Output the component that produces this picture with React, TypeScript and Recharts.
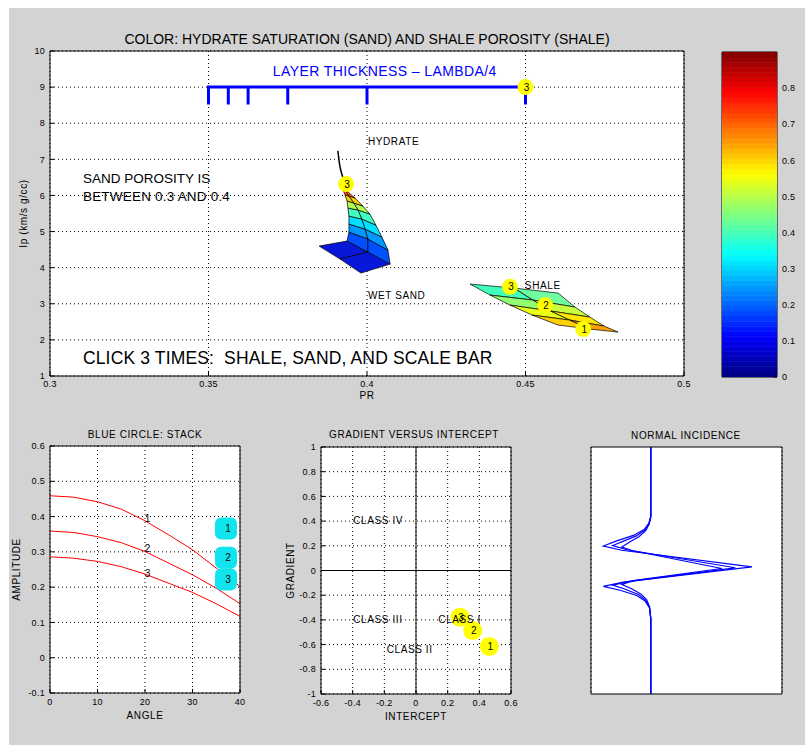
import React from 'react';
import {
  ComposedChart, Line, Scatter, XAxis, YAxis, CartesianGrid,
  ReferenceDot, ReferenceLine,
} from 'recharts';

const FONT = '"Liberation Sans", Arial, Helvetica, sans-serif';
const FIG_BG = '#d3d3d3';

// ---------- top panel: Ip vs PR ----------
const prTicks = [0.3, 0.35, 0.4, 0.45, 0.5];
const ipTicks = [1, 2, 3, 4, 5, 6, 7, 8, 9, 10];

// sand surface, rows go from wet sand (bottom) up towards full hydrate
const hydrateRows: number[][][] = [
  [[0.3849, 4.598], [0.3915, 4.238], [0.3981, 3.85]],
  [[0.3937, 4.737], [0.4003, 4.432], [0.4073, 4.1]],
  [[0.3943, 4.986], [0.4003, 4.792], [0.4066, 4.488]],
  [[0.3943, 5.208], [0.3994, 5.069], [0.4047, 4.848]],
  [[0.3943, 5.429], [0.3984, 5.346], [0.4028, 5.18]],
  [[0.394, 5.651], [0.3972, 5.596], [0.4009, 5.485]],
  [[0.3937, 5.845], [0.3959, 5.789], [0.3987, 5.706]],
  [[0.3931, 6.011], [0.3943, 5.983], [0.3962, 5.928]],
  [[0.3924, 6.15], [0.3931, 6.15], [0.3937, 6.122]],
];
const hydrateColors = ['#0818d8', '#0050ff', '#0098ff', '#00e0ff', '#40ffc0', '#b0ff50', '#ffd000', '#ff6000'];
const hydrateTail = [[0.3934, 6.288], [0.3923, 6.518], [0.3917, 6.704], [0.3913, 6.889], [0.3908, 7.238]];

// shale surface, rows from high porosity (top) to low porosity (bottom)
const shaleRows: number[][][] = [
  [[0.4325, 3.546], [0.4464, 3.435], [0.4603, 3.296]],
  [[0.4388, 3.241], [0.4524, 3.102], [0.4656, 2.909]],
  [[0.4451, 2.964], [0.458, 2.798], [0.4703, 2.632]],
  [[0.4521, 2.687], [0.464, 2.548], [0.4748, 2.382]],
  [[0.4603, 2.41], [0.4703, 2.299], [0.4792, 2.216]],
];
const shaleColors = [
  ['#40ffb8', '#70ffa0'],
  ['#90ff70', '#c8ff40'],
  ['#e8ff18', '#ffe800'],
  ['#ffd000', '#ffa000'],
];

const scaleBarTicks = [0.35, 0.35625, 0.3625, 0.375, 0.4, 0.45];
const scaleBarY = 9;
const scaleBarTickEnd = 8.52;

const topMarkers = [
  { x: 0.45, y: 9, label: '3' },
  { x: 0.3934, y: 6.316, label: '3' },
  { x: 0.4451, y: 3.47, label: '3' },
  { x: 0.4562, y: 2.964, label: '2' },
  { x: 0.4682, y: 2.3, label: '1' },
];

// ---------- colorbar ----------
const cbTicks = [0, 0.1, 0.2, 0.3, 0.4, 0.5, 0.6, 0.7, 0.8];
const cbMax = 0.9;
const cbLevels = 64;

// ---------- AVO stack panel ----------
const angles = [0, 5, 10, 15, 20, 25, 30, 35, 40];
const amp1 = [0.459, 0.455, 0.442, 0.421, 0.388, 0.348, 0.306, 0.254, 0.202];
const amp2 = [0.359, 0.355, 0.343, 0.326, 0.301, 0.268, 0.235, 0.197, 0.153];
const amp3 = [0.286, 0.282, 0.273, 0.258, 0.237, 0.211, 0.185, 0.153, 0.117];
const angleTicks = [0, 10, 20, 30, 40];
const ampTicks = [-0.1, 0, 0.1, 0.2, 0.3, 0.4, 0.5, 0.6];
const stackBoxes = [
  { x: 37.05, y: 0.366, label: '1' },
  { x: 37.05, y: 0.283, label: '2' },
  { x: 37.05, y: 0.222, label: '3' },
];

// ---------- gradient vs intercept ----------
const interceptTicks = [-0.6, -0.4, -0.2, 0, 0.2, 0.4, 0.6];
const gradientTicks = [-1, -0.8, -0.6, -0.4, -0.2, 0, 0.2, 0.4, 0.6, 0.8, 1];
const avoPoints = [
  { x: 0.278, y: -0.378, label: '3' },
  { x: 0.358, y: -0.486, label: '2' },
  { x: 0.463, y: -0.616, label: '1' },
];

// ---------- normal incidence traces ----------
const traceTimeA = [0, 28, 30.9, 33.4, 35.8, 38, 40.1, 41.8, 48.5, 54.7, 56.4, 58, 60.1, 62.4, 65.1, 69.6, 100];
const traceAmpA = [-0.748, -0.748, -0.79, -0.888, -1.112, -1.462, -1.741, -1.357, 1.371, -1.322, -1.741, -1.392, -1.042, -0.867, -0.776, -0.748, -0.748];
const traceTimeB = [0, 28.2, 31, 33.6, 36, 38.1, 39.9, 41.6, 48.9, 54.4, 55.9, 57.6, 59.8, 62.2, 65, 69.4, 100];
const traceAmpB = [-0.748, -0.748, -0.785, -0.87, -1.05, -1.32, -1.545, -1.25, 1.021, -1.2, -1.545, -1.28, -1.0, -0.85, -0.775, -0.748, -0.748];
const traceTimeC = [0, 28.4, 31.2, 33.8, 36.2, 38.5, 40.5, 42, 49.2, 54, 55.6, 57.4, 59.6, 62, 64.8, 69.2, 100];
const traceAmpC = [-0.748, -0.748, -0.78, -0.85, -0.99, -1.19, -1.357, -1.12, 0.741, -1.08, -1.357, -1.15, -0.95, -0.83, -0.772, -0.748, -0.748];

// ---------- helpers ----------
const toPts = (rows: number[][]) => rows.map(([x, y]) => ({ x, y }));

function buildQuads(rows: number[][][], colors: (string | string[])[]) {
  const quads: { pts: { x: number; y: number }[]; color: string }[] = [];
  for (let b = 0; b < rows.length - 1; b++) {
    for (let c = 0; c < rows[b].length - 1; c++) {
      const col = colors[b];
      quads.push({
        pts: toPts([rows[b][c], rows[b][c + 1], rows[b + 1][c + 1], rows[b + 1][c]]),
        color: Array.isArray(col) ? col[c] : col,
      });
    }
  }
  return quads;
}

// draws the whole series as one filled polygon from its first dot
const polygonDot = (color: string, edge = '#000', edgeWidth = 0.7) => (p: any) => {
  if (p.index !== 0 || !p.points) return <g key={p.key} />;
  const d = p.points.map((q: any) => `${q.x},${q.y}`).join(' ');
  return <polygon key={p.key} points={d} fill={color} stroke={edge} strokeWidth={edgeWidth} strokeLinejoin="round" />;
};

const yellowMarker = (r: number) => (p: any) => (
  <g>
    <circle cx={p.cx} cy={p.cy} r={r} fill="#ffff00" />
    <text x={p.cx + 1} y={p.cy} textAnchor="middle" dominantBaseline="central" fontSize={10} fontFamily={FONT} fill="#000">
      {p.payload.label}
    </text>
  </g>
);

const cyanBox = (p: any) => (
  <g>
    <rect x={p.cx - 11} y={p.cy - 11} width={22} height={22} rx={6} fill="#10e4ec" />
    <text x={p.cx + 2} y={p.cy} textAnchor="middle" dominantBaseline="central" fontSize={10} fontFamily={FONT} fill="#000">
      {p.payload.label}
    </text>
  </g>
);

type Note = { x: number; y: number; text: string; size?: number; color?: string; anchor?: 'start' | 'middle' | 'end'; spacing?: number };

function notes(list: Note[], key: string) {
  return list.map((n, i) => (
    <ReferenceDot
      key={`${key}-${i}`}
      x={n.x}
      y={n.y}
      r={0}
      ifOverflow="visible"
      shape={(p: any) => (
        <text
          x={p.cx}
          y={p.cy}
          textAnchor={n.anchor ?? 'start'}
          dominantBaseline="central"
          fontSize={n.size ?? 10}
          fontFamily={FONT}
          fill={n.color ?? '#000'}
          letterSpacing={n.spacing ?? 0.6}
          style={{ whiteSpace: 'pre' }}
        >
          {n.text}
        </text>
      )}
    />
  ));
}

function jet(t: number) {
  const c = (v: number) => Math.round(255 * Math.max(0, Math.min(1, v)));
  const r = Math.min(4 * t - 1.5, -4 * t + 4.5);
  const g = Math.min(4 * t - 0.5, -4 * t + 3.5);
  const b = Math.min(4 * t + 0.5, -4 * t + 2.5);
  return `rgb(${c(r)},${c(g)},${c(b)})`;
}

const tickStyle = { fill: '#000', fontSize: 9, fontFamily: FONT, letterSpacing: 0.3 };
const labelStyle = { fill: '#000', fontSize: 10, fontFamily: FONT, letterSpacing: 0.6 };
const axisLine = { stroke: '#000' };
const tickLine = { stroke: '#000' };
const fmt = (v: number) => String(Math.round(v * 100) / 100);

function Title({ text, cx, cy, size = 10, spacing = 0.6 }: { text: string; cx: number; cy: number; size?: number; spacing?: number }) {
  return (
    <div
      style={{
        position: 'absolute', left: cx - 300, width: 600, top: cy - size, lineHeight: `${size * 2}px`,
        textAlign: 'center', fontSize: size, letterSpacing: spacing, color: '#000', whiteSpace: 'nowrap',
      }}
    >
      {text}
    </div>
  );
}

function TopPanel() {
  const hydQuads = buildQuads(hydrateRows, hydrateColors);
  const shaleQuads = buildQuads(shaleRows, shaleColors);
  const bar: { x: number; y: number }[] = [];
  scaleBarTicks.forEach((t, i) => {
    if (i > 0) bar.push({ x: t, y: scaleBarY });
    bar.push({ x: t, y: scaleBarTickEnd });
    bar.push({ x: t, y: scaleBarY });
  });
  bar.pop();

  return (
    <ComposedChart width={700} height={400} margin={{ top: 42, right: 23, bottom: 2, left: 12 }}>
      <CartesianGrid stroke="#000" strokeDasharray="1 3" fill="#fff" />
      <XAxis
        dataKey="x" type="number" domain={[0.3, 0.5]} ticks={prTicks} allowDataOverflow
        height={30} tickSize={-4} tickMargin={9} axisLine={axisLine} tickLine={tickLine} tick={tickStyle}
        tickFormatter={fmt}
        label={{ value: 'PR', position: 'insideBottom', offset: 7, ...labelStyle }}
      />
      <XAxis
        xAxisId="top" orientation="top" type="number" domain={[0.3, 0.5]} ticks={prTicks} allowDataOverflow
        height={1} tickSize={-4} tick={false} axisLine={axisLine} tickLine={tickLine}
      />
      <YAxis
        dataKey="y" type="number" domain={[1, 10]} ticks={ipTicks} allowDataOverflow
        width={30} tickSize={-4} tickMargin={9} axisLine={axisLine} tickLine={tickLine} tick={tickStyle}
        label={{ value: 'Ip (km/s g/cc)', angle: -90, position: 'insideLeft', offset: 3, ...labelStyle, style: { textAnchor: 'middle' } }}
      />
      <YAxis
        yAxisId="right" orientation="right" type="number" domain={[1, 10]} ticks={ipTicks} allowDataOverflow
        width={1} tickSize={-4} tick={false} axisLine={axisLine} tickLine={tickLine}
      />
      <Line data={toPts(hydrateTail)} dataKey="y" stroke="#000" strokeWidth={1.5} dot={false} activeDot={false} isAnimationActive={false} />
      {hydQuads.map((q, i) => (
        <Line key={`h${i}`} data={q.pts} dataKey="y" stroke="none" dot={polygonDot(q.color)} activeDot={false} isAnimationActive={false} />
      ))}
      {shaleQuads.map((q, i) => (
        <Line key={`s${i}`} data={q.pts} dataKey="y" stroke="none" dot={polygonDot(q.color)} activeDot={false} isAnimationActive={false} />
      ))}
      <Line data={bar} dataKey="y" stroke="#0000ff" strokeWidth={3} strokeLinejoin="miter" dot={false} activeDot={false} isAnimationActive={false} />
      <Scatter data={topMarkers} dataKey="y" shape={yellowMarker(8)} isAnimationActive={false} />
      {notes([
        { x: 0.3703, y: 9.446, text: 'LAYER THICKNESS – LAMBDA/4', size: 14, color: '#0000ff', spacing: 0.4 },
        { x: 0.4003, y: 7.49, text: 'HYDRATE' },
        { x: 0.4003, y: 3.24, text: 'WET SAND' },
        { x: 0.4498, y: 3.52, text: 'SHALE' },
        { x: 0.3104, y: 6.482, text: 'SAND POROSITY IS', size: 13.5, spacing: 0 },
        { x: 0.3104, y: 5.983, text: 'BETWEEN 0.3 AND 0.4', size: 13.5, spacing: 0.2 },
        { x: 0.3104, y: 1.496, text: 'CLICK 3 TIMES:  SHALE, SAND, AND SCALE BAR', size: 17.5, spacing: 0.15 },
      ], 'top')}
    </ComposedChart>
  );
}

function ColorBar() {
  const step = cbMax / cbLevels;
  const levels = Array.from({ length: cbLevels }, (_, i) => ({
    pts: [
      { x: 0, y: i * step }, { x: 1, y: i * step },
      { x: 1, y: (i + 1) * step }, { x: 0, y: (i + 1) * step },
    ],
    color: jet((i + 0.5) / cbLevels),
  }));
  return (
    <ComposedChart width={90} height={400} margin={{ top: 43, right: 1, bottom: 30, left: 13 }}>
      <XAxis dataKey="x" type="number" domain={[0, 1]} allowDataOverflow
        height={1} tick={false} tickLine={false} axisLine={axisLine} />
      <XAxis xAxisId="top" orientation="top" type="number" domain={[0, 1]} allowDataOverflow
        height={1} tick={false} tickLine={false} axisLine={axisLine} />
      <YAxis
        yAxisId="left" orientation="left" type="number" domain={[0, cbMax]} ticks={cbTicks} allowDataOverflow
        width={1} tickSize={-4} tick={false} axisLine={axisLine} tickLine={tickLine}
      />
      <YAxis
        dataKey="y" orientation="right" type="number" domain={[0, cbMax]} ticks={cbTicks} allowDataOverflow
        width={20} tickSize={-4} tickMargin={9} axisLine={axisLine} tickLine={tickLine} tick={tickStyle} tickFormatter={fmt}
      />
      {levels.map((l, i) => (
        <Line key={i} data={l.pts} dataKey="y" stroke="none" dot={polygonDot(l.color, l.color, 0.6)} activeDot={false} isAnimationActive={false} />
      ))}
    </ComposedChart>
  );
}

function StackPanel() {
  const curve = (vals: number[]) => angles.map((a, i) => ({ x: a, y: vals[i] }));
  return (
    <ComposedChart width={250} height={310} margin={{ top: 27, right: 17, bottom: 5, left: 12 }}>
      <CartesianGrid stroke="#000" strokeDasharray="1 3" fill="#fff" />
      <XAxis
        dataKey="x" type="number" domain={[0, 40]} ticks={angleTicks} allowDataOverflow
        height={30} tickSize={-4} tickMargin={10} axisLine={axisLine} tickLine={tickLine} tick={tickStyle}
        label={{ value: 'ANGLE', position: 'insideBottom', offset: 4, ...labelStyle }}
      />
      <XAxis xAxisId="top" orientation="top" type="number" domain={[0, 40]} ticks={angleTicks} allowDataOverflow
        height={1} tickSize={-4} tick={false} axisLine={axisLine} tickLine={tickLine} />
      <YAxis
        dataKey="y" type="number" domain={[-0.1, 0.6]} ticks={ampTicks} allowDataOverflow
        width={30} tickSize={-4} tickMargin={9} axisLine={axisLine} tickLine={tickLine} tick={tickStyle} tickFormatter={fmt}
        label={{ value: 'AMPLITUDE', angle: -90, position: 'insideLeft', offset: -3.5, ...labelStyle, style: { textAnchor: 'middle' } }}
      />
      <YAxis yAxisId="right" orientation="right" type="number" domain={[-0.1, 0.6]} ticks={ampTicks} allowDataOverflow
        width={1} tickSize={-4} tick={false} axisLine={axisLine} tickLine={tickLine} />
      <Line data={curve(amp1)} dataKey="y" stroke="#ff0000" strokeWidth={1} dot={false} activeDot={false} isAnimationActive={false} />
      <Line data={curve(amp2)} dataKey="y" stroke="#ff0000" strokeWidth={1} dot={false} activeDot={false} isAnimationActive={false} />
      <Line data={curve(amp3)} dataKey="y" stroke="#ff0000" strokeWidth={1} dot={false} activeDot={false} isAnimationActive={false} />
      <Scatter data={stackBoxes} dataKey="y" shape={cyanBox} isAnimationActive={false} />
      {notes([
        { x: 20.6, y: 0.395, text: '1', anchor: 'middle' },
        { x: 20.6, y: 0.31, text: '2', anchor: 'middle' },
        { x: 20.6, y: 0.24, text: '3', anchor: 'middle' },
      ], 'stk')}
    </ComposedChart>
  );
}

function AvoPanel() {
  return (
    <ComposedChart width={250} height={310} margin={{ top: 28, right: 16, bottom: 4, left: 13 }}>
      <CartesianGrid stroke="#000" strokeDasharray="1 3" fill="#fff" />
      <XAxis
        dataKey="x" type="number" domain={[-0.6, 0.6]} ticks={interceptTicks} allowDataOverflow
        height={30} tickSize={-4} tickMargin={10} axisLine={axisLine} tickLine={tickLine} tick={tickStyle} tickFormatter={fmt}
        label={{ value: 'INTERCEPT', position: 'insideBottom', offset: 4, ...labelStyle }}
      />
      <XAxis xAxisId="top" orientation="top" type="number" domain={[-0.6, 0.6]} ticks={interceptTicks} allowDataOverflow
        height={1} tickSize={-4} tick={false} axisLine={axisLine} tickLine={tickLine} />
      <YAxis
        dataKey="y" type="number" domain={[-1, 1]} ticks={gradientTicks} allowDataOverflow
        width={30} tickSize={-4} tickMargin={9} axisLine={axisLine} tickLine={tickLine} tick={tickStyle} tickFormatter={fmt}
        label={{ value: 'GRADIENT', angle: -90, position: 'insideLeft', offset: -1, ...labelStyle, style: { textAnchor: 'middle' } }}
      />
      <YAxis yAxisId="right" orientation="right" type="number" domain={[-1, 1]} ticks={gradientTicks} allowDataOverflow
        width={1} tickSize={-4} tick={false} axisLine={axisLine} tickLine={tickLine} />
      <ReferenceLine x={0} stroke="#000" strokeWidth={1} />
      <ReferenceLine y={0} stroke="#000" strokeWidth={1} />
      <Scatter data={avoPoints} dataKey="y" shape={yellowMarker(9.5)} isAnimationActive={false} />
      {notes([
        { x: -0.396, y: 0.407, text: 'CLASS IV' },
        { x: -0.396, y: -0.399, text: 'CLASS III' },
        { x: -0.185, y: -0.637, text: 'CLASS II' },
        { x: 0.141, y: -0.394, text: 'CLASS I' },
      ], 'avo')}
    </ComposedChart>
  );
}

function TracePanel() {
  const trace = (t: number[], a: number[]) => t.map((tt, i) => ({ x: a[i], y: tt }));
  return (
    <ComposedChart width={240} height={310} margin={{ top: 28, right: 25, bottom: 33, left: 22 }}>
      <CartesianGrid stroke="#000" strokeDasharray="1 3" fill="#fff" horizontal={false} />
      <XAxis dataKey="x" type="number" domain={[-2, 2]} ticks={[-1, 0, 1]} allowDataOverflow
        height={1} tick={false} tickLine={false} axisLine={axisLine} />
      <XAxis xAxisId="top" orientation="top" type="number" domain={[-2, 2]} allowDataOverflow
        height={1} tick={false} tickLine={false} axisLine={axisLine} />
      <YAxis dataKey="y" type="number" domain={[0, 100]} reversed allowDataOverflow
        width={1} tick={false} tickLine={false} axisLine={axisLine} />
      <YAxis yAxisId="right" orientation="right" type="number" domain={[0, 100]} allowDataOverflow
        width={1} tick={false} tickLine={false} axisLine={axisLine} />
      <Line data={trace(traceTimeA, traceAmpA)} dataKey="y" stroke="#0000ff" strokeWidth={1.2} dot={false} activeDot={false} isAnimationActive={false} />
      <Line data={trace(traceTimeB, traceAmpB)} dataKey="y" stroke="#0000ff" strokeWidth={1.2} dot={false} activeDot={false} isAnimationActive={false} />
      <Line data={trace(traceTimeC, traceAmpC)} dataKey="y" stroke="#0000ff" strokeWidth={1.2} dot={false} activeDot={false} isAnimationActive={false} />
    </ComposedChart>
  );
}

export default function App() {
  const place = (left: number, top: number, child: React.ReactNode) => (
    <div style={{ position: 'absolute', left, top }}>{child}</div>
  );
  return (
    <div style={{ position: 'relative', width: 805, height: 745, overflow: 'hidden', background: '#fff', fontFamily: FONT }}>
      <style>{'body{margin:0;overflow:hidden;}'}</style>
      <div style={{ position: 'absolute', left: 9, top: 8, width: 796, height: 737, background: FIG_BG }} />
      <Title text="COLOR: HYDRATE SATURATION (SAND) AND SHALE POROSITY (SHALE)" cx={367} cy={39} size={14} spacing={0} />
      <Title text="BLUE CIRCLE: STACK" cx={145} cy={435} />
      <Title text="GRADIENT VERSUS INTERCEPT" cx={414} cy={435} />
      <Title text="NORMAL INCIDENCE" cx={686} cy={436} />
      {place(8, 8, <TopPanel />)}
      {place(708, 8, <ColorBar />)}
      {place(8, 418, <StackPanel />)}
      {place(278, 418, <AvoPanel />)}
      {place(568, 418, <TracePanel />)}
    </div>
  );
}
